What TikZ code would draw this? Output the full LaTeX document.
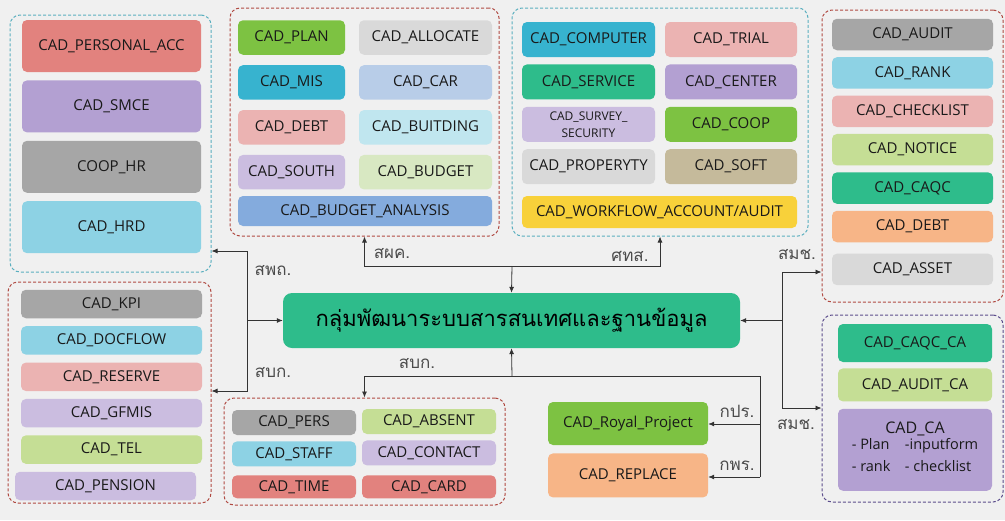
\documentclass[tikz,border=0pt]{standalone}
\usepackage{fontspec}
\setmainfont{Open Sans}
\newfontfamily\thaifont[Script=Thai]{Loma}
\usetikzlibrary{positioning,arrows.meta}
\definecolor{bgc}{HTML}{F0F0F0}
\definecolor{cRed}{HTML}{E2827E}
\definecolor{cPurple}{HTML}{B3A0D2}
\definecolor{cGray}{HTML}{A6A6A6}
\definecolor{cSky}{HTML}{8DD2E4}
\definecolor{cPink}{HTML}{EBB3B2}
\definecolor{cLav}{HTML}{CBBDE0}
\definecolor{cLime}{HTML}{C5DE95}
\definecolor{cGreen}{HTML}{7DC242}
\definecolor{cSilver}{HTML}{D9D9D9}
\definecolor{cTeal}{HTML}{37B3CF}
\definecolor{cBlue}{HTML}{B8CDE8}
\definecolor{cCyan}{HTML}{C0E6EF}
\definecolor{cPale}{HTML}{D8E8C2}
\definecolor{cMid}{HTML}{84ABDD}
\definecolor{cJade}{HTML}{2EBC8B}
\definecolor{cKhaki}{HTML}{C5BA9B}
\definecolor{cYellow}{HTML}{F8D13A}
\definecolor{cOrange}{HTML}{F7B587}
\definecolor{fRed}{HTML}{B04A42}
\definecolor{fTeal}{HTML}{5AAFBF}
\definecolor{fPurple}{HTML}{5C4D8C}
\tikzset{box/.style={rounded corners=5pt,inner sep=0pt,text=black!90,font=\fontsize{15}{17}\selectfont},
grp/.style={draw,dash pattern=on 3pt off 2pt,line width=1pt,rounded corners=10pt,inner sep=0pt},
link/.style={line width=0.8pt,black!80,>={Latex[length=6pt,width=5pt]}},
lbl/.style={font=\thaifont\fontsize{17}{19}\selectfont,text=black!70}}

\begin{document}
\begin{tikzpicture}[x=1pt,y=-1pt]
\fill[bgc] (0,0) rectangle (1005,520);
% groups
\node[grp,fTeal,minimum width=201pt,minimum height=257pt] (gtl) at (110.5,143.5) {};
\node[grp,fRed,minimum width=203pt,minimum height=221pt] (glb) at (109.5,392.5) {};
\node[grp,fRed,minimum width=269pt,minimum height=228pt] (gfin) at (364.5,122) {};
\node[grp,fTeal,minimum width=296pt,minimum height=228pt] (gict) at (660,122) {};
\node[grp,fRed,minimum width=181pt,minimum height=292pt] (gaud) at (912.5,156) {};
\node[grp,fPurple,minimum width=181pt,minimum height=187pt] (gca) at (912.5,408.5) {};
\node[grp,fRed,minimum width=281pt,minimum height=107pt] (gpers) at (364.5,451.5) {};
% left top
\node[box,fill=cRed,minimum width=179pt,minimum height=52pt] (pacc) at (111.5,46) {CAD\_PERSONAL\_ACC};
\node[box,fill=cPurple,minimum width=179pt,minimum height=52pt,below=8pt of pacc] (smce) {CAD\_SMCE};
\node[box,fill=cGray,minimum width=179pt,minimum height=52pt,below=8pt of smce] (coophr) {COOP\_HR};
\node[box,fill=cSky,minimum width=179pt,minimum height=52pt,below=8pt of coophr] (hrd) {CAD\_HRD};
% left bottom
\node[box,fill=cGray,minimum width=181pt,minimum height=28.5pt] (kpi) at (111.5,304) {CAD\_KPI};
\node[box,fill=cSky,minimum width=181pt,minimum height=28.5pt,below=7.5pt of kpi] (docflow) {CAD\_DOCFLOW};
\node[box,fill=cPink,minimum width=181pt,minimum height=28.5pt,below=7.5pt of docflow] (reserve) {CAD\_RESERVE};
\node[box,fill=cLav,minimum width=181pt,minimum height=28.5pt,below=7.5pt of reserve] (gfmis) {CAD\_GFMIS};
\node[box,fill=cLime,minimum width=181pt,minimum height=28.5pt,below=7.5pt of gfmis] (tel) {CAD\_TEL};
\node[box,fill=cLav,minimum width=181pt,minimum height=28.5pt,below=7.5pt of tel,xshift=-6pt] (pension) {CAD\_PENSION};
% top middle
\node[box,fill=cGreen,minimum width=107pt,minimum height=34.5pt] (plan) at (291.5,37.5) {CAD\_PLAN};
\node[box,fill=cSilver,minimum width=133pt,minimum height=34.5pt] (allocate) at (425.5,37.5) {CAD\_ALLOCATE};
\node[box,fill=cTeal,minimum width=107pt,minimum height=34.5pt,below=10pt of plan] (mis) {CAD\_MIS};
\node[box,fill=cBlue,minimum width=133pt,minimum height=34.5pt,below=10pt of allocate] (car) {CAD\_CAR};
\node[box,fill=cPink,minimum width=107pt,minimum height=34.5pt,below=10pt of mis] (debt) {CAD\_DEBT};
\node[box,fill=cCyan,minimum width=133pt,minimum height=34.5pt,below=10pt of car] (buitding) {CAD\_BUITDING};
\node[box,fill=cLav,minimum width=107pt,minimum height=34.5pt,below=10pt of debt] (south) {CAD\_SOUTH};
\node[box,fill=cPale,minimum width=133pt,minimum height=34.5pt,below=10pt of buitding] (budget) {CAD\_BUDGET};
\node[box,fill=cMid,minimum width=254pt,minimum height=30pt] (analysis) at (365,211) {CAD\_BUDGET\_ANALYSIS};
% top right centre
\node[box,fill=cTeal,minimum width=133pt,minimum height=35pt] (computer) at (588.5,39.5) {CAD\_COMPUTER};
\node[box,fill=cPink,minimum width=132pt,minimum height=35pt] (trial) at (731,39.5) {CAD\_TRIAL};
\node[box,fill=cJade,minimum width=133pt,minimum height=35pt,below=7pt of computer] (service) {CAD\_SERVICE};
\node[box,fill=cPurple,minimum width=132pt,minimum height=35pt,below=7pt of trial] (center) {CAD\_CENTER};
\node[box,fill=cLav,minimum width=133pt,minimum height=35pt,below=7pt of service,align=center,font=\fontsize{12}{17}\selectfont] (survey) {CAD\_SURVEY\_\\SECURITY};
\node[box,fill=cGreen,minimum width=132pt,minimum height=35pt,below=7pt of center] (coop) {CAD\_COOP};
\node[box,fill=cSilver,minimum width=133pt,minimum height=35pt,below=7pt of survey] (propery) {CAD\_PROPERYTY};
\node[box,fill=cKhaki,minimum width=132pt,minimum height=35pt,below=7pt of coop] (soft) {CAD\_SOFT};
\node[box,fill=cYellow,minimum width=275pt,minimum height=32pt] (workflow) at (659.5,212) {CAD\_WORKFLOW\_ACCOUNT/AUDIT};
% right top
\node[box,fill=cGray,minimum width=161pt,minimum height=31.5pt] (audit) at (912.5,34.5) {CAD\_AUDIT};
\node[box,fill=cSky,minimum width=161pt,minimum height=31.5pt,below=6.5pt of audit] (rank) {CAD\_RANK};
\node[box,fill=cPink,minimum width=161pt,minimum height=31.5pt,below=6.5pt of rank] (checklist) {CAD\_CHECKLIST};
\node[box,fill=cLime,minimum width=161pt,minimum height=31.5pt,below=6.5pt of checklist] (notice) {CAD\_NOTICE};
\node[box,fill=cJade,minimum width=161pt,minimum height=31.5pt,below=6.5pt of notice] (caqc) {CAD\_CAQC};
\node[box,fill=cOrange,minimum width=161pt,minimum height=31.5pt,below=6.5pt of caqc] (rdebt) {CAD\_DEBT};
\node[box,fill=cSilver,minimum width=161pt,minimum height=31.5pt,below=11pt of rdebt] (asset) {CAD\_ASSET};
% right bottom
\node[box,fill=cJade,minimum width=154pt,minimum height=38pt] (caqcca) at (915,343) {CAD\_CAQC\_CA};
\node[box,fill=cLime,minimum width=154pt,minimum height=33pt,below=6pt of caqcca] (auditca) {CAD\_AUDIT\_CA};
\node[box,fill=cPurple,minimum width=154pt,minimum height=82pt,below=7pt of auditca,align=center,font=\fontsize{16}{18}\selectfont] (ca)
  {CAD\_CA\\[-3pt]{\fontsize{14.5}{22}\selectfont\begin{tabular}{@{}l@{\hspace{1em}}l@{}}- Plan & -inputform\\- rank & - checklist\end{tabular}}};
% bottom middle
\node[box,fill=cGray,minimum width=124pt,minimum height=25pt] (pers) at (294,422.5) {CAD\_PERS};
\node[box,fill=cLime,minimum width=134pt,minimum height=25pt] (absent) at (429,421.5) {CAD\_ABSENT};
\node[box,fill=cSky,minimum width=124pt,minimum height=25pt,below=6pt of pers] (staff) {CAD\_STAFF};
\node[box,fill=cLav,minimum width=134pt,minimum height=25pt,below=6pt of absent] (contact) {CAD\_CONTACT};
\node[box,fill=cRed,minimum width=124pt,minimum height=23pt,below=8.5pt of staff] (time) {CAD\_TIME};
\node[box,fill=cRed,minimum width=134pt,minimum height=23pt,below=9.5pt of contact] (card) {CAD\_CARD};
% bottom right
\node[box,fill=cGreen,minimum width=160pt,minimum height=43pt] (royal) at (628,423.5) {CAD\_Royal\_Project};
\node[box,fill=cOrange,minimum width=160pt,minimum height=44pt,below=8pt of royal] (replace) {CAD\_REPLACE};
% centre
\node[box,fill=cJade,rounded corners=9pt,minimum width=457pt,minimum height=55pt,text=black,font=\thaifont\fontsize{22}{26}\selectfont] (c) at (511.5,320.5) {กลุ่มพัฒนาระบบสารสนเทศและฐานข้อมูล};
% junctions
\coordinate (jt) at (512,266);
\coordinate (jl) at (247,320.5);
\coordinate (jlt) at (247,251);
\coordinate (jlb) at (247,391);
\coordinate (jr) at (782,320.5);
\coordinate (jrt) at (782,272);
\coordinate (jrb) at (782,408);
\coordinate (jb) at (512,376);
\coordinate (jbr) at (760,376);
\coordinate (jk) at (760,424);
\coordinate (jp) at (760,477);
% connectors
\draw[link,->] (jt) -- (c.north);
\draw[link,->] (jt) -| (gfin.south);
\draw[link,->] (jt) -| (gict.south);
\draw[link,->] (jl) -- (c.west);
\draw[link,->] (jl) -- (jlt) -- (jlt -| gtl.east);
\draw[link,->] (jl) -- (jlb) -- (jlb -| glb.east);
\draw[link,->] (jr) -- (c.east);
\draw[link,->] (jr) -- (jrt) -- (jrt -| gaud.west);
\draw[link,->] (jr) -- (jrb) -- (jrb -| gca.west);
\draw[link,->] (jb) -- (c.south);
\draw[link,->] (jb) -| (gpers.north);
\draw[link] (jb) -- (jbr) -- (jp);
\draw[link,->] (jk) -- (jk -| royal.east);
\draw[link,->] (jp) -- (jp -| replace.east);
% labels
\node[lbl] (lfin) at (392,254) {สผค.};
\node[lbl] (lict) at (630,256) {ศทส.};
\node[lbl] (lhrd) at (273,271) {สพถ.};
\node[lbl] (lgad) at (273,373) {สบก.};
\node[lbl] (lgadb) at (417,364) {สบก.};
\node[lbl] (laudt) at (797,255) {สมช.};
\node[lbl] (laudb) at (796,425) {สมช.};
\node[lbl] (lroyal) at (737,411) {กปร.};
\node[lbl] (lopdc) at (737,466) {กพร.};
\end{tikzpicture}
\end{document}
